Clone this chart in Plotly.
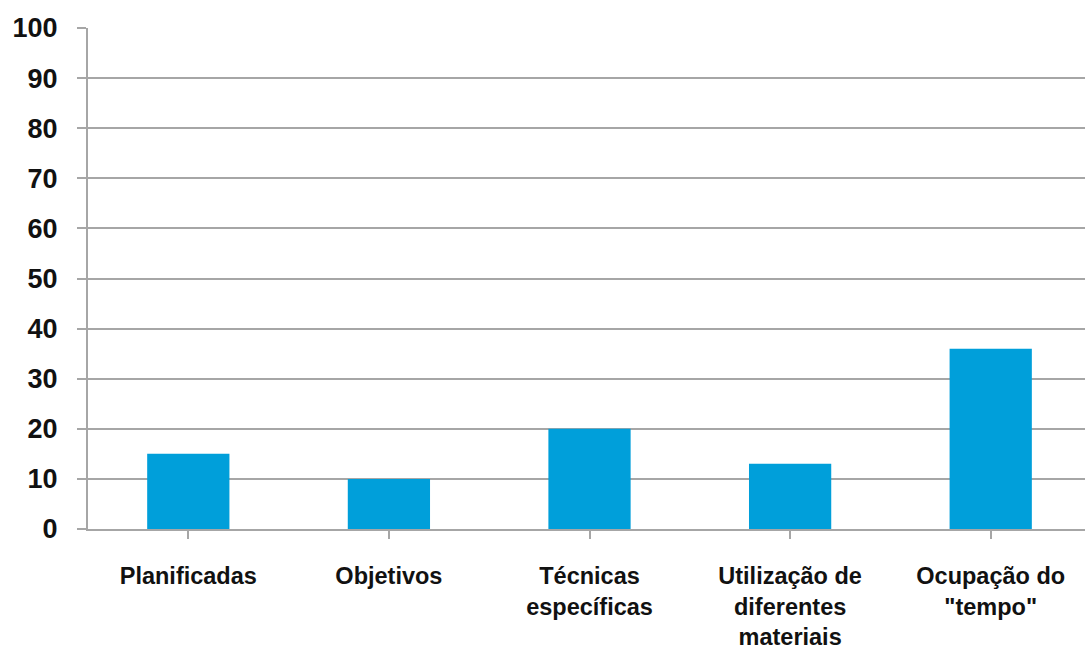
import plotly.graph_objects as go

categories = [
    "Planificadas",
    "Objetivos",
    "Técnicas<br>específicas",
    "Utilização de<br>diferentes<br>materiais",
    "Ocupação do<br>\"tempo\"",
]
values = [15, 10, 20, 13, 36]
y_ticks = list(range(0, 101, 10))

grid_color = "#a6a6a6"
bar_color = "#009fda"

fig = go.Figure(
    go.Bar(
        x=list(range(len(categories))),
        y=values,
        marker=dict(color=bar_color, line=dict(width=0)),
        width=0.41,
    )
)

fig.update_layout(
    width=1085,
    height=668,
    margin=dict(l=88, r=0, t=28, b=139),
    paper_bgcolor="white",
    plot_bgcolor="white",
    showlegend=False,
    font=dict(family="Liberation Sans", color="#111111"),
)

fig.update_xaxes(
    tickmode="array",
    tickvals=list(range(len(categories))),
    ticktext=categories,
    range=[-0.5, 4.47],
    showgrid=False,
    showline=True,
    linecolor=grid_color,
    linewidth=2,
    ticks="outside",
    tickson="boundaries",
    ticklen=8,
    tickwidth=2,
    tickcolor=grid_color,
    tickfont=dict(family="Liberation Sans", size=23.5, color="#111111", weight="bold"),
    ticklabelstandoff=17,
    zeroline=False,
)

fig.update_yaxes(
    range=[0, 100],
    tickmode="array",
    tickvals=y_ticks,
    showgrid=True,
    gridcolor=grid_color,
    gridwidth=2,
    showline=True,
    linecolor=grid_color,
    linewidth=2,
    ticks="outside",
    ticklen=9,
    tickwidth=2,
    tickcolor=grid_color,
    tickfont=dict(family="Liberation Sans", size=27, color="#111111", weight="bold"),
    ticklabelstandoff=14,
    zeroline=False,
)

fig.write_html("out.html")
